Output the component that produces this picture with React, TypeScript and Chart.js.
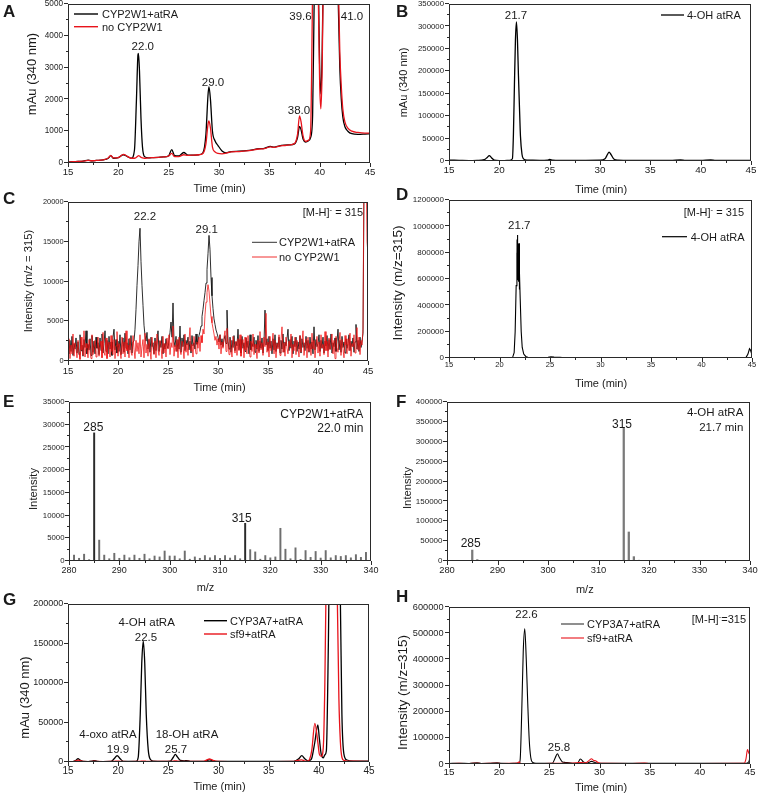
import React, { useEffect, useRef } from 'react';
import { Chart, registerables } from 'chart.js';
Chart.register(...registerables);

const FF = '"Liberation Sans", Arial, Helvetica, sans-serif';
const RED = '#e8131b';
const INK = '#1a1a1a';

// ---------------- Panel A: HPLC 340 nm, CYP2W1 ----------------
const aTime = [15.0, 15.5, 16.0, 16.5, 17.0, 17.3, 17.8, 18.5, 19.0, 19.25, 19.5, 20.0, 20.5, 20.9, 21.3, 21.6, 21.8, 21.95, 22.0, 22.1, 22.25, 22.4, 22.6, 23.0, 23.5, 24.0, 24.5, 25.0, 25.3, 25.6, 26.0, 26.5, 26.9, 27.5, 28.0, 28.4, 28.7, 28.9, 29.0, 29.15, 29.35, 29.6, 29.9, 30.3, 30.7, 31.2, 32.0, 33.0, 34.0, 34.5, 35.1, 35.5, 36.0, 36.5, 37.0, 37.5, 37.8, 38.0, 38.15, 38.35, 38.6, 38.9, 39.1, 39.3, 39.45, 39.7, 39.9, 40.0, 40.12, 40.25, 40.4, 40.6, 41.2, 41.7, 41.85, 42.0, 42.15, 42.3, 42.5, 42.8, 43.2, 43.8, 44.5, 45.0];
const aCyp2w1 = [30, 40, 50, 60, 90, 70, 80, 100, 150, 230, 150, 170, 260, 200, 150, 400, 2000, 3400, 3450, 2900, 1400, 500, 200, 160, 170, 180, 190, 230, 420, 230, 220, 330, 250, 250, 260, 320, 900, 2100, 2400, 2000, 1000, 700, 550, 380, 320, 360, 370, 400, 450, 460, 520, 500, 540, 560, 570, 600, 800, 1150, 1050, 750, 660, 700, 800, 1500, 5000, 9000, 5000, 3000, 2170, 3500, 7000, 10000, 12000, 8000, 5000, 3000, 2000, 1450, 1150, 1000, 920, 900, 910, 920];
const aNoCyp = [30, 40, 50, 60, 80, 70, 80, 100, 160, 240, 160, 170, 270, 210, 150, 150, 180, 220, 230, 220, 180, 160, 150, 160, 170, 180, 190, 220, 300, 200, 200, 260, 240, 250, 260, 300, 600, 1200, 1320, 1100, 500, 350, 300, 290, 310, 350, 360, 390, 440, 450, 510, 490, 530, 550, 570, 610, 900, 1480, 1300, 850, 680, 720, 1000, 5500, 9000, 9000, 4500, 2500, 1700, 3000, 7000, 10000, 12000, 8500, 5800, 3500, 2400, 1700, 1300, 1100, 1000, 960, 940, 940];

// ---------------- Panel B: 4-OH atRA standard, 340 nm ----------------
const bTime = [15.0, 16.0, 17.0, 17.8, 18.5, 18.8, 19.0, 19.2, 19.5, 20.0, 20.5, 21.0, 21.3, 21.4, 21.5, 21.6, 21.7, 21.8, 21.9, 22.0, 22.1, 22.25, 22.4, 22.6, 23.0, 24.0, 24.8, 25.0, 25.3, 26.0, 28.0, 30.0, 30.5, 30.75, 30.9, 31.1, 31.4, 31.8, 33.0, 35.0, 37.0, 38.0, 38.5, 40.0, 41.0, 41.5, 43.0, 45.0];
const b4OH = [2000, 1500, 1000, 1500, 3000, 8000, 12000, 8000, 2000, 1000, 1000, 1500, 5000, 60000, 170000, 270000, 310000, 270000, 190000, 120000, 55000, 15000, 5000, 2500, 2000, 1500, 2000, 3500, 2000, 1500, 1500, 1800, 5000, 15000, 20000, 14000, 4000, 2000, 1500, 1500, 1500, 2500, 1500, 1500, 2500, 1500, 1500, 1500];

// ---------------- Panel C: LC-MS m/z 315, CYP2W1 (sampled every 0.1 min from 15 min) ----------------
const C_START = 15;
const C_STEP = 0.1;
const cCyp2w1 = [
  1800, 900, 2600, 1200, 3100, 700, 2200, 1500, 2900, 1000,
  2400, 800, 3300, 1300, 2000, 600, 2700, 1700, 3800, 900,
  2100, 1400, 2800, 700, 3200, 1100, 2500, 900, 3000, 1600,
  2300, 800, 2900, 1300, 3400, 1000, 2200, 3800, 1200, 2600,
  900, 3100, 1500, 2400, 700, 3000, 4000, 1400, 2700, 1000,
  2500, 1200, 3300, 800, 2100, 2900, 1100, 3500, 1600, 2300,
  900, 2800, 1400, 3200, 1000, 2400, 2500, 4000, 6500, 9500,
  12000, 15000, 16700, 12500, 9500, 7000, 4500, 3200, 2500, 3600,
  1500, 2700, 1100, 3000, 1800, 2300, 900, 2900, 1300, 2600,
  3800, 1200, 2500, 1700, 3100, 900, 2200, 1500, 2800, 1900,
  1600, 2600, 3600, 4900, 3000, 7300, 2500, 1800, 3100, 1200,
  2700, 1500, 4400, 1100, 2900, 1800, 3300, 1300, 2600, 2000,
  3000, 1400, 2500, 1000, 3200, 1900, 2300, 1500, 3400, 2100,
  2600, 3200, 3700, 4400, 5600, 6500, 7600, 8600, 9800, 11500,
  13500, 15800, 14000, 10500, 8200, 6600, 5300, 4600, 3900, 3500,
  3000, 2400, 3300, 2000, 2800, 1800, 2700, 3200, 2200, 6400,
  2500, 1500, 3000, 1100, 2600, 1700, 3200, 1300, 2400, 1900,
  4000, 1400, 2700, 1000, 3100, 1600, 2300, 1200, 2900, 1700,
  2500, 900, 3300, 1400, 2200, 1800, 3000, 1100, 2600, 1500,
  3200, 1200, 2500, 1600, 2900, 1000, 2400, 6400, 2000, 2800,
  1300, 3100, 1600, 2500, 900, 2800, 1400, 3300, 1200, 2300,
  1700, 3000, 1000, 2600, 1500, 3400, 1100, 2400, 1900, 2800,
  4000, 1300, 2700, 1600, 3100, 900, 2500, 1800, 3000, 1200,
  2400, 1500, 3200, 1000, 2800, 1700, 2300, 1300, 3100, 1600,
  2600, 1100, 3000, 1500, 2400, 900, 4300, 1400, 2700, 1800,
  2200, 3300, 1200, 2600, 1600, 3000, 1000, 2500, 1900, 3200,
  1300, 2700, 1500, 3400, 1000, 2300, 1800, 2900, 1200, 2500,
  4000, 1400, 2600, 1100, 3100, 1700, 2400, 1000, 2800, 1600,
  2200, 3300, 1300, 2500, 1800, 2900, 1100, 2400, 4600, 1500,
  2600, 1200, 3000, 1700, 2400, 3500, 22000, 28000, 24000, 22000,
  20000,
];
const cNoCyp = [
  1200, 2800, 300, 2000, 900, 3400, 600, 2300, 1500, 400,
  2600, 1100, 200, 3000, 1400, 700, 3800, 500, 2200, 1600,
  400, 2700, 1200, 300, 3300, 800, 1900, 2600, 500, 1300,
  3000, 600, 1800, 2500, 400, 3600, 1100, 700, 2900, 300,
  1700, 2400, 500, 3200, 1200, 800, 2700, 300, 1900, 3700,
  600, 2200, 1400, 300, 3000, 900, 2400, 500, 3800, 1300,
  2000, 400, 2900, 1100, 700, 3200, 1500, 300, 2600, 1200,
  2300, 900, 3300, 500, 1800, 2700, 400, 3500, 1000, 2100,
  600, 2800, 1300, 200, 3000, 1600, 800, 2500, 400, 3400,
  1400, 700, 2600, 1900, 300, 3100, 1000, 2200, 500, 2900,
  1500, 3300, 800, 2300, 1700, 4400, 600, 2000, 1200, 2700,
  400, 3000, 1400, 800, 2500, 1900, 300, 3400, 1100, 2200,
  700, 2600, 4200, 1200, 2100, 500, 3100, 1800, 900, 2400,
  1600, 3000, 1200, 3200, 2300, 4000, 3400, 5800, 7400, 8600,
  9600, 8800, 7200, 5600, 4800, 4100, 3400, 2600, 3100, 2000,
  2800, 1500, 3300, 900, 2400, 1600, 3000, 3800, 1200, 4100,
  2300, 800, 2700, 1500, 500, 3100, 1900, 1000, 2500, 700,
  2800, 1300, 3300, 600, 2000, 2700, 400, 3000, 1400, 900,
  3200, 1700, 500, 2500, 1200, 3400, 800, 2100, 1600, 300,
  2600, 1000, 3700, 1400, 2300, 700, 3000, 1800, 6000, 1100,
  2400, 500, 3100, 1300, 2000, 3500, 900, 2600, 400, 2200,
  1500, 3300, 700, 2700, 4300, 1100, 2300, 600, 3000, 1600,
  900, 2500, 1800, 3400, 400, 2100, 1300, 3000, 800, 2600,
  1700, 500, 3200, 1100, 2400, 3800, 700, 1900, 2800, 400,
  3000, 1200, 2200, 700, 3500, 1500, 2600, 400, 1900, 3100,
  1000, 2400, 600, 3300, 1600, 2100, 800, 3700, 1300, 2500,
  500, 2900, 1400, 2000, 3400, 900, 2600, 300, 3100, 1700,
  1100, 2300, 3600, 700, 2700, 1500, 400, 3200, 2000, 900,
  2800, 1300, 3500, 600, 2200, 1800, 3300, 1000, 2500, 4200,
  1400, 3000, 800, 2600, 2000, 4000, 25000, 30000, 25000, 15000,
  13500,
];

// ---------------- Panel D: LC-MS m/z 315, 4-OH atRA standard ----------------
const dTime = [15.0, 16.0, 17.0, 18.0, 18.7, 19.5, 20.5, 21.0, 21.3, 21.45, 21.55, 21.65, 21.72, 21.73, 21.74, 21.75, 21.76, 21.77, 21.78, 21.79, 21.8, 21.81, 21.82, 21.83, 21.84, 21.85, 21.86, 21.87, 21.88, 21.89, 21.9, 21.91, 21.92, 21.93, 21.94, 21.95, 21.96, 21.97, 21.98, 21.99, 22.0, 22.05, 22.15, 22.25, 22.4, 22.6, 22.8, 23.2, 24.0, 24.8, 25.1, 25.4, 26.0, 26.2, 28.0, 30.0, 33.0, 36.0, 40.0, 43.0, 44.4, 44.6, 44.75, 44.85, 44.95, 45.0];
const d4OH = [3000, 2000, 3000, 2500, 4000, 3000, 2500, 3000, 5000, 40000, 200000, 550000, 800000, 620000, 900000, 640000, 935000, 610000, 910000, 600000, 900000, 620000, 880000, 590000, 870000, 610000, 860000, 600000, 850000, 590000, 870000, 600000, 860000, 580000, 872000, 590000, 840000, 560000, 760000, 520000, 650000, 450000, 200000, 80000, 30000, 12000, 6000, 4000, 3000, 5000, 9000, 7000, 5000, 3000, 2500, 2500, 2500, 2500, 2500, 2500, 3000, 30000, 70000, 60000, 35000, 45000];

// ---------------- Panel E: MS spectrum at 22.0 min, CYP2W1+atRA ----------------
const eMz = [281, 282, 283, 284, 285, 286, 287, 288, 289, 290, 291, 292, 293, 294, 295, 296, 297, 298, 299, 300, 301, 302, 303, 304, 305, 306, 307, 308, 309, 310, 311, 312, 313, 314, 315, 316, 317, 318, 319, 320, 321, 322, 323, 324, 325, 326, 327, 328, 329, 330, 331, 332, 333, 334, 335, 336, 337, 338, 339];
const eInt = [1300, 600, 1500, 300, 28200, 4600, 1300, 500, 1700, 600, 1300, 700, 1300, 600, 1500, 500, 1100, 900, 2200, 1100, 1100, 500, 2200, 400, 900, 600, 1200, 700, 1200, 600, 1200, 650, 1200, 500, 8300, 2500, 2000, 400, 1200, 700, 900, 7200, 2600, 500, 2900, 350, 2300, 800, 2100, 650, 2300, 700, 1200, 1000, 1200, 700, 1400, 800, 1900];

// ---------------- Panel F: MS spectrum at 21.7 min, 4-OH atRA ----------------
const fMz = [285, 286, 287, 313, 315, 316, 317, 318];
const fInt = [27500, 3500, 1000, 1500, 334000, 73000, 11000, 2000];

// ---------------- Panel G: HPLC 340 nm, CYP3A7 ----------------
const gTime = [15.0, 15.5, 15.8, 16.0, 16.2, 16.5, 17.0, 17.4, 17.6, 17.9, 18.5, 19.3, 19.6, 19.9, 20.2, 20.5, 21.0, 21.8, 22.0, 22.2, 22.35, 22.5, 22.65, 22.8, 23.0, 23.2, 23.5, 24.5, 25.2, 25.5, 25.7, 25.9, 26.2, 26.6, 26.8, 27.2, 28.5, 28.9, 29.1, 29.3, 29.7, 31.0, 35.0, 37.5, 38.0, 38.3, 38.6, 38.9, 39.1, 39.3, 39.6, 39.9, 40.05, 40.25, 40.45, 40.6, 40.75, 40.95, 41.1, 41.5, 41.85, 42.0, 42.15, 42.3, 42.5, 42.8, 43.5, 45.0];
const gCyp3a7 = [500, 600, 2200, 4200, 2500, 800, 600, 1200, 1800, 900, 600, 800, 4000, 8000, 4000, 900, 700, 900, 6000, 60000, 125000, 153000, 125000, 60000, 15000, 3500, 1200, 900, 1200, 6000, 9700, 6500, 2000, 1500, 1800, 900, 800, 2000, 2600, 2000, 900, 700, 700, 900, 4000, 8000, 4000, 1500, 2000, 5000, 25000, 47000, 30000, 9000, 5400, 9000, 14000, 150000, 300000, 330000, 320000, 280000, 200000, 60000, 10000, 2500, 1200, 1000];
const gSf9 = [500, 600, 1500, 2500, 1600, 700, 600, 800, 1000, 700, 600, 700, 900, 1200, 900, 700, 600, 700, 800, 900, 1000, 1000, 1000, 900, 800, 700, 700, 700, 900, 1200, 1500, 1200, 800, 700, 700, 700, 900, 3000, 3800, 3000, 1000, 600, 600, 800, 2200, 2800, 1200, 1000, 4000, 15000, 49000, 25000, 10000, 7000, 20000, 100000, 250000, 330000, 330000, 320000, 200000, 80000, 25000, 6000, 2000, 1200, 1000, 800];

// ---------------- Panel H: LC-MS m/z 315, CYP3A7 ----------------
const hTime = [15.0, 16.0, 17.0, 17.8, 18.2, 19.0, 19.8, 20.2, 21.0, 21.8, 22.0, 22.1, 22.25, 22.4, 22.55, 22.7, 22.85, 23.0, 23.15, 23.35, 23.7, 24.5, 25.3, 25.6, 25.8, 26.0, 26.3, 26.6, 27.0, 27.4, 27.8, 28.1, 28.4, 28.7, 29.0, 29.2, 29.4, 29.6, 29.9, 30.5, 33.0, 34.5, 35.0, 40.0, 44.4, 44.6, 44.75, 44.9, 45.0];
const hCyp3a7 = [2000, 2500, 2000, 4500, 2000, 2500, 5000, 2500, 2000, 2500, 3000, 20000, 200000, 430000, 517000, 400000, 230000, 90000, 25000, 6000, 3000, 2500, 3000, 25000, 39000, 25000, 8000, 6000, 5000, 2500, 3000, 19000, 8000, 4000, 7000, 10000, 8000, 5000, 3000, 2500, 2500, 3000, 2500, 2500, 2500, 3000, 4000, 10000, 25000];
const hSf9 = [2000, 2200, 2000, 3000, 2000, 2200, 3000, 2000, 2200, 4000, 8000, 3000, 2000, 2000, 2000, 2000, 2000, 2000, 2000, 2000, 2000, 2000, 2500, 3000, 3000, 3000, 3000, 3000, 3000, 3500, 5000, 6000, 5000, 6000, 15000, 20000, 14000, 12000, 5000, 2500, 2000, 4000, 2000, 2000, 2500, 20000, 55000, 40000, 38000];

// ---------------- helpers ----------------
const pts = (xs, ys) => ys.map((v, i) => ({ x: xs[i], y: v }));
const cTime = cCyp2w1.map((_, i) => C_START + i * C_STEP);

function lineDs(xs, ys, color, width, smooth) {
  return {
    data: pts(xs, ys),
    borderColor: color,
    backgroundColor: color,
    borderWidth: width,
    pointRadius: 0,
    fill: false,
    tension: 0,
    cubicInterpolationMode: smooth ? 'monotone' : 'default',
    clip: 0,
  };
}
function barDs(xs, ys, color, thick) {
  return {
    data: pts(xs, ys),
    backgroundColor: color,
    borderWidth: 0,
    barThickness: thick,
    clip: 0,
  };
}

const M = (s) => [{ t: '[M-H]' }, { t: '-', sup: true }, { t: s }];

const PANELS = [
  {
    id: 'A', type: 'line',
    canvas: { x: 0, y: 0, w: 379, h: 198 }, plot: { l: 68, t: 4, r: 370, b: 163 },
    x: { min: 15, max: 45, step: 5, minor: 2.5, size: 9.6, off: 9.5 },
    y: { min: 0, max: 5000, step: 1000, minor: 500, size: 8.2, pad: 5 },
    datasets: [lineDs(aTime, aNoCyp, RED, 1.3, true), lineDs(aTime, aCyp2w1, '#000', 1.3, true)],
    lines: [{ x1: 74, x2: 98, y: 14, c: '#000', w: 1.4 }, { x1: 74, x2: 98, y: 26.7, c: RED, w: 1.4 }],
    texts: [
      { s: 'A', x: 3, y: 11, size: 17, bold: true, align: 'left' },
      { s: 'mAu (340 nm)', x: 31.5, y: 74, size: 13, rot: true },
      { s: 'Time (min)', x: 219.5, y: 188, size: 11 },
      { s: 'CYP2W1+atRA', x: 102, y: 14, size: 11, align: 'left' },
      { s: 'no CYP2W1', x: 102, y: 27, size: 11, align: 'left' },
      { s: '22.0', x: 142.8, y: 45.5, size: 11.5 },
      { s: '29.0', x: 213, y: 81.5, size: 11.5 },
      { s: '38.0', x: 299, y: 110, size: 11.5 },
      { s: '39.6', x: 300.5, y: 15.5, size: 11.5 },
      { s: '41.0', x: 352, y: 15.5, size: 11.5 },
    ],
  },
  {
    id: 'B', type: 'line',
    canvas: { x: 379, y: 0, w: 379, h: 198 }, plot: { l: 449, t: 4, r: 751, b: 161 },
    x: { min: 15, max: 45, step: 5, minor: 2.5, size: 9.9, off: 9 },
    y: { min: 0, max: 350000, step: 50000, minor: 25000, size: 7.8, pad: 5 },
    datasets: [lineDs(bTime, b4OH, '#000', 1.3, true)],
    lines: [{ x1: 661, x2: 684, y: 15, c: '#000', w: 1.3 }],
    texts: [
      { s: 'B', x: 396, y: 10.5, size: 17, bold: true, align: 'left' },
      { s: 'mAu (340 nm)', x: 403, y: 82.5, size: 11, rot: true },
      { s: 'Time (min)', x: 601, y: 189, size: 11 },
      { s: '4-OH atRA', x: 687, y: 15, size: 11, align: 'left' },
      { s: '21.7', x: 516, y: 14.5, size: 11.5 },
    ],
  },
  {
    id: 'C', type: 'line',
    canvas: { x: 0, y: 186, w: 379, h: 210 }, plot: { l: 68, t: 202, r: 368, b: 361 },
    x: { min: 15, max: 45, step: 5, minor: 2.5, size: 9.6, off: 10 },
    y: { min: 0, max: 20000, step: 5000, minor: 2500, size: 7.4, pad: 4.5 },
    datasets: [lineDs(cTime, cNoCyp, '#f01010', 0.75, false), lineDs(cTime, cCyp2w1, '#0a0a0a', 0.85, false)],
    lines: [{ x1: 252, x2: 277, y: 242.3, c: '#333', w: 1 }, { x1: 252, x2: 277, y: 257, c: '#f03030', w: 1 }],
    texts: [
      { s: 'C', x: 3, y: 197.5, size: 17, bold: true, align: 'left' },
      { s: 'Intensity (m/z = 315)', x: 27.5, y: 281, size: 11.3, rot: true },
      { s: 'Time (min)', x: 219.5, y: 387, size: 11 },
      { s: M(' = 315'), x: 363, y: 212.5, size: 11, align: 'right' },
      { s: 'CYP2W1+atRA', x: 279, y: 242.3, size: 11, align: 'left' },
      { s: 'no CYP2W1', x: 279, y: 257, size: 11, align: 'left' },
      { s: '22.2', x: 145, y: 216, size: 11.5 },
      { s: '29.1', x: 206.7, y: 229, size: 11.5 },
    ],
  },
  {
    id: 'D', type: 'line',
    canvas: { x: 379, y: 184, w: 379, h: 212 }, plot: { l: 449, t: 200, r: 752, b: 358 },
    x: { min: 15, max: 45, step: 5, minor: 2.5, size: 7.5, off: 6.5 },
    y: { min: 0, max: 1200000, step: 200000, minor: 100000, size: 8, pad: 5 },
    datasets: [lineDs(dTime, d4OH, '#000', 1.1, false)],
    lines: [{ x1: 662, x2: 687, y: 236.7, c: '#000', w: 1.2 }],
    texts: [
      { s: 'D', x: 396, y: 193.5, size: 17, bold: true, align: 'left' },
      { s: 'Intensity (m/z=315)', x: 397, y: 283, size: 13.5, rot: true },
      { s: 'Time (min)', x: 601, y: 383.3, size: 11 },
      { s: M(' = 315'), x: 744, y: 212.3, size: 11, align: 'right' },
      { s: '4-OH atRA', x: 690.7, y: 236.7, size: 11, align: 'left' },
      { s: '21.7', x: 519.3, y: 225, size: 11.5 },
    ],
  },
  {
    id: 'E', type: 'bar',
    canvas: { x: 0, y: 388, w: 379, h: 210 }, plot: { l: 69, t: 402, r: 371, b: 561 },
    x: { min: 280, max: 340, step: 10, minor: 5, size: 9, off: 10 },
    y: { min: 0, max: 35000, step: 5000, minor: 2500, size: 7.8, pad: 4.5 },
    datasets: [barDs(eMz, eInt, eMz.map((m) => (m === 285 || m === 315 ? '#2a2a2a' : '#6e6e6e')), 1.3)],
    lines: [],
    texts: [
      { s: 'E', x: 3, y: 401, size: 17, bold: true, align: 'left' },
      { s: 'Intensity', x: 32.5, y: 489, size: 11.3, rot: true },
      { s: 'm/z', x: 205.5, y: 587, size: 11 },
      { s: 'CYP2W1+atRA', x: 363.3, y: 413.3, size: 12, align: 'right' },
      { s: '22.0 min', x: 363.3, y: 427.8, size: 12, align: 'right' },
      { s: '285', x: 93.3, y: 426.3, size: 12 },
      { s: '315', x: 241.7, y: 517.8, size: 12 },
    ],
  },
  {
    id: 'F', type: 'bar',
    canvas: { x: 379, y: 388, w: 379, h: 210 }, plot: { l: 447, t: 402, r: 750, b: 561 },
    x: { min: 280, max: 340, step: 10, minor: 5, size: 9.4, off: 9 },
    y: { min: 0, max: 400000, step: 50000, minor: 25000, size: 8, pad: 4.5 },
    datasets: [barDs(fMz, fInt, '#7a7a7a', 1.6)],
    lines: [],
    texts: [
      { s: 'F', x: 396, y: 401, size: 17, bold: true, align: 'left' },
      { s: 'Intensity', x: 407, y: 488, size: 11.3, rot: true },
      { s: 'm/z', x: 584.8, y: 589, size: 11 },
      { s: '4-OH atRA', x: 743.3, y: 412, size: 11.5, align: 'right' },
      { s: '21.7 min', x: 743.3, y: 427, size: 11.5, align: 'right' },
      { s: '315', x: 622, y: 423.7, size: 12 },
      { s: '285', x: 470.7, y: 542.8, size: 12 },
    ],
  },
  {
    id: 'G', type: 'line',
    canvas: { x: 0, y: 586, w: 379, h: 212 }, plot: { l: 68, t: 604, r: 369, b: 762 },
    x: { min: 15, max: 45, step: 5, minor: 2.5, size: 10, off: 9 },
    y: { min: 0, max: 200000, step: 50000, minor: 25000, size: 9, pad: 4.7 },
    datasets: [lineDs(gTime, gSf9, RED, 1.3, true), lineDs(gTime, gCyp3a7, '#000', 1.3, true)],
    lines: [{ x1: 204, x2: 227, y: 620.7, c: '#000', w: 1.4 }, { x1: 204, x2: 227, y: 634, c: RED, w: 1.4 }],
    texts: [
      { s: 'G', x: 3, y: 599, size: 17, bold: true, align: 'left' },
      { s: 'mAu (340 nm)', x: 24, y: 697.5, size: 13, rot: true },
      { s: 'Time (min)', x: 219.5, y: 785.8, size: 11 },
      { s: 'CYP3A7+atRA', x: 230, y: 620.7, size: 11, align: 'left' },
      { s: 'sf9+atRA', x: 230, y: 634, size: 11, align: 'left' },
      { s: '4-OH atRA', x: 146.7, y: 622, size: 11.5 },
      { s: '22.5', x: 146, y: 636.8, size: 11.5 },
      { s: '4-oxo atRA', x: 108, y: 734, size: 11.5 },
      { s: '19.9', x: 118, y: 749, size: 11.5 },
      { s: '18-OH atRA', x: 187, y: 734, size: 11.5 },
      { s: '25.7', x: 176, y: 749, size: 11.5 },
    ],
  },
  {
    id: 'H', type: 'line',
    canvas: { x: 379, y: 586, w: 379, h: 212 }, plot: { l: 449, t: 607, r: 750, b: 764 },
    x: { min: 15, max: 45, step: 5, minor: 2.5, size: 9.9, off: 8 },
    y: { min: 0, max: 600000, step: 100000, minor: 50000, size: 9.2, pad: 5.5 },
    datasets: [lineDs(hTime, hSf9, RED, 1.1, true), lineDs(hTime, hCyp3a7, '#000', 1.1, true)],
    lines: [{ x1: 561, x2: 584, y: 624, c: '#333', w: 1.1 }, { x1: 561, x2: 584, y: 638, c: RED, w: 1.1 }],
    texts: [
      { s: 'H', x: 396, y: 596, size: 17, bold: true, align: 'left' },
      { s: 'Intensity (m/z=315)', x: 402.3, y: 692.5, size: 13.5, rot: true },
      { s: 'Time (min)', x: 601, y: 787, size: 11 },
      { s: 'CYP3A7+atRA', x: 587, y: 624, size: 11, align: 'left' },
      { s: 'sf9+atRA', x: 587, y: 638, size: 11, align: 'left' },
      { s: M('=315'), x: 746, y: 619.5, size: 11, align: 'right' },
      { s: '22.6', x: 526.5, y: 614.2, size: 11.5 },
      { s: '25.8', x: 559, y: 747, size: 11.5 },
    ],
  },
];

function drawText(ctx, it, ox, oy) {
  const size = it.size;
  const segs = typeof it.s === 'string' ? [{ t: it.s }] : it.s;
  const fontFor = (sup) => `${it.bold ? 'bold ' : ''}${sup ? size * 0.7 : size}px ${FF}`;
  ctx.save();
  ctx.fillStyle = INK;
  let total = 0;
  const widths = segs.map((sg) => {
    ctx.font = fontFor(sg.sup);
    const w = ctx.measureText(sg.t).width;
    total += w;
    return w;
  });
  ctx.translate(it.x - ox, it.y - oy);
  if (it.rot) ctx.rotate(-Math.PI / 2);
  const align = it.align || 'center';
  let x0 = align === 'center' ? -total / 2 : align === 'right' ? -total : 0;
  const base = 0.36 * size;
  ctx.textAlign = 'left';
  ctx.textBaseline = 'alphabetic';
  segs.forEach((sg, i) => {
    ctx.font = fontFor(sg.sup);
    ctx.fillText(sg.t, x0, sg.sup ? base - size * 0.42 : base);
    x0 += widths[i];
  });
  ctx.restore();
}

function decoPlugin(p) {
  return {
    id: 'deco' + p.id,
    afterDatasetsDraw(chart) {
      const ctx = chart.ctx;
      const xs = chart.scales.x;
      const ys = chart.scales.y;
      const { left, right, top, bottom } = chart.chartArea;
      const ox = p.canvas.x;
      const oy = p.canvas.y;
      ctx.save();
      ctx.strokeStyle = '#2a2a2a';
      ctx.lineWidth = 1;
      ctx.strokeRect(Math.round(left) + 0.5, Math.round(top) + 0.5, Math.round(right - left) - 1, Math.round(bottom - top) - 1);
      ctx.beginPath();
      const nx = Math.round((p.x.max - p.x.min) / p.x.minor);
      const rx = Math.round(p.x.step / p.x.minor);
      for (let i = 0; i <= nx; i++) {
        const v = p.x.min + i * p.x.minor;
        const px = Math.round(xs.getPixelForValue(v)) + 0.5;
        const len = i % rx === 0 ? 4 : 2;
        ctx.moveTo(px, Math.round(bottom));
        ctx.lineTo(px, Math.round(bottom) + len);
      }
      const ny = Math.round((p.y.max - p.y.min) / p.y.minor);
      const ry = Math.round(p.y.step / p.y.minor);
      for (let i = 0; i <= ny; i++) {
        const v = p.y.min + i * p.y.minor;
        const py = Math.round(ys.getPixelForValue(v)) - 0.5;
        const len = i % ry === 0 ? 4 : 2;
        ctx.moveTo(Math.round(left), py);
        ctx.lineTo(Math.round(left) - len, py);
      }
      ctx.stroke();
      p.lines.forEach((l) => {
        ctx.beginPath();
        ctx.strokeStyle = l.c;
        ctx.lineWidth = l.w;
        ctx.moveTo(l.x1 - ox, l.y - oy);
        ctx.lineTo(l.x2 - ox, l.y - oy);
        ctx.stroke();
      });
      ctx.restore();
      p.texts.forEach((t) => drawText(ctx, t, ox, oy));
    },
  };
}

function buildConfig(p) {
  const padTop = p.plot.t - p.canvas.y;
  const padRight = p.canvas.x + p.canvas.w - p.plot.r;
  const yW = p.plot.l - p.canvas.x;
  const xH = p.canvas.y + p.canvas.h - p.plot.b;
  return {
    type: p.type,
    data: { datasets: p.datasets },
    options: {
      animation: false,
      responsive: false,
      devicePixelRatio: 1,
      events: [],
      layout: { padding: { top: padTop, right: padRight, left: 0, bottom: 0 } },
      plugins: { legend: { display: false }, tooltip: { enabled: false } },
      scales: {
        x: {
          type: 'linear', min: p.x.min, max: p.x.max, offset: false,
          grid: { display: false, drawTicks: false }, border: { display: false },
          ticks: {
            stepSize: p.x.step, autoSkip: false, maxRotation: 0, minRotation: 0,
            font: { family: FF, size: p.x.size }, color: '#222',
            padding: p.x.off - 0.6 * p.x.size,
            callback: (v) => String(v),
          },
          afterFit: (s) => { s.height = xH; s.paddingLeft = 0; s.paddingRight = 0; },
        },
        y: {
          type: 'linear', min: p.y.min, max: p.y.max,
          grid: { display: false, drawTicks: false }, border: { display: false },
          ticks: {
            stepSize: p.y.step, autoSkip: false,
            font: { family: FF, size: p.y.size }, color: '#222',
            padding: p.y.pad,
            callback: (v) => String(v),
          },
          afterFit: (s) => { s.width = yW; s.paddingTop = 0; s.paddingBottom = 0; },
        },
      },
    },
    plugins: [decoPlugin(p)],
  };
}

function Panel({ p }) {
  const ref = useRef(null);
  useEffect(() => {
    const chart = new Chart(ref.current, buildConfig(p));
    return () => chart.destroy();
  }, [p]);
  return (
    <canvas
      ref={ref}
      width={p.canvas.w}
      height={p.canvas.h}
      style={{ position: 'absolute', left: p.canvas.x, top: p.canvas.y, width: p.canvas.w, height: p.canvas.h }}
    />
  );
}

export default function App() {
  return (
    <div style={{ position: 'absolute', left: 0, top: 0, width: 758, height: 798, background: '#fff', overflow: 'hidden' }}>
      {PANELS.map((p) => (
        <Panel key={p.id} p={p} />
      ))}
    </div>
  );
}
